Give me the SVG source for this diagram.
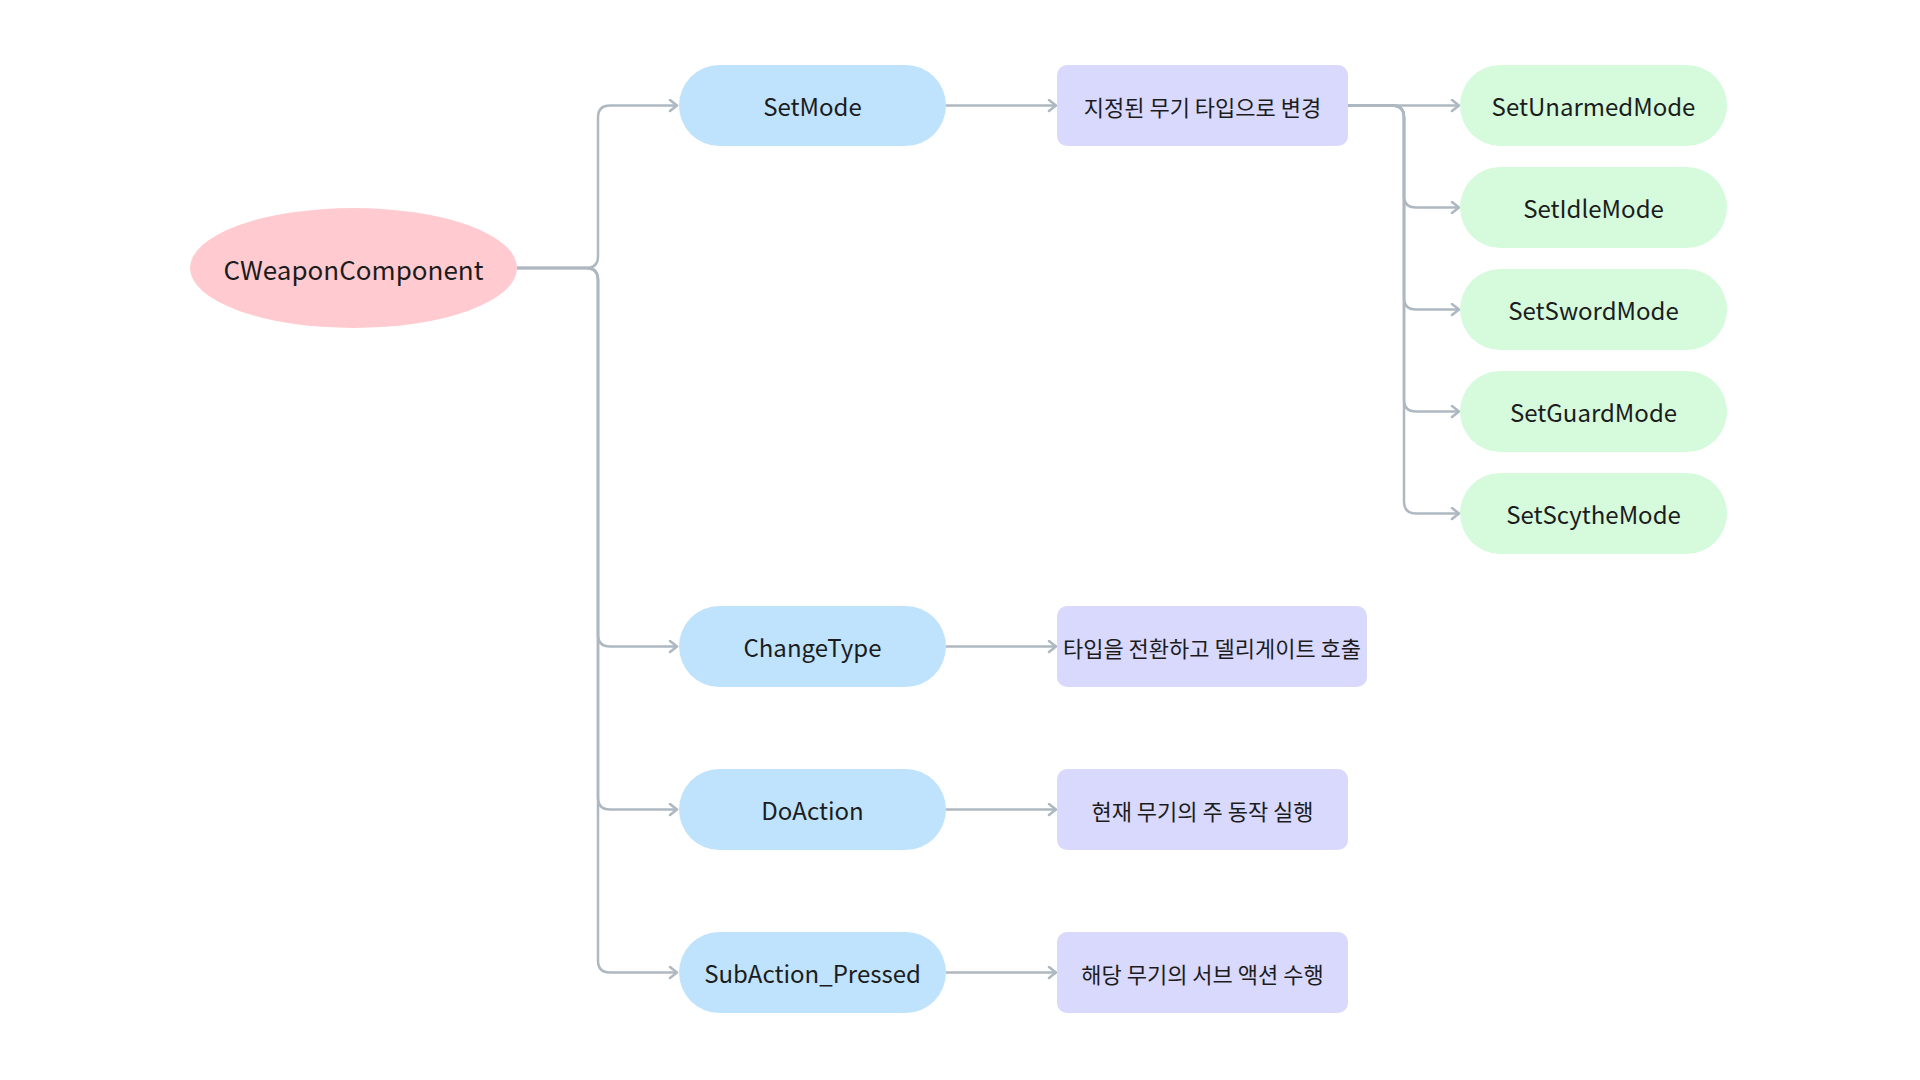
<svg xmlns="http://www.w3.org/2000/svg" width="1920" height="1080" viewBox="0 0 1920 1080">
<style>
text{font-family:"Noto Sans CJK KR","Noto Sans",sans-serif;fill:#1c1c1c;text-anchor:middle;dominant-baseline:central}
.lbl{font-size:24px}
.rootlbl{font-size:26px}
.desc{font-size:22px}
.root{fill:#ffcbd1}
.fn{fill:#bfe3fd}
.dsc{fill:#d8d9fd}
.mode{fill:#d5fadc}
.edge{fill:none;stroke:#aeb8c1;stroke-width:2.5;marker-end:url(#arr)}
</style>
<defs>
<marker id="arr" markerUnits="userSpaceOnUse" markerWidth="12" markerHeight="14" refX="9" refY="7" orient="auto" viewBox="0 0 12 14">
<path d="M2,1.5 L9,7 L2,12.5" fill="none" stroke="#aeb8c1" stroke-width="2.5" stroke-linecap="round" stroke-linejoin="round"/>
</marker>
</defs>
<rect width="1920" height="1080" fill="#ffffff"/>
<g id="connectors">
<path class="edge" d="M517,268 H586 Q598,268 598,256 V117.5 Q598,105.5 610,105.5 H677"/>
<path class="edge" d="M517,268 H586 Q598,268 598,280 V634.5 Q598,646.5 610,646.5 H677"/>
<path class="edge" d="M517,268 H586 Q598,268 598,280 V797.5 Q598,809.5 610,809.5 H677"/>
<path class="edge" d="M517,268 H586 Q598,268 598,280 V960.5 Q598,972.5 610,972.5 H677"/>
<path class="edge" d="M946,105.5 H1056"/>
<path class="edge" d="M946,646.5 H1056"/>
<path class="edge" d="M946,809.5 H1056"/>
<path class="edge" d="M946,972.5 H1056"/>
<path class="edge" d="M1348,105.5 H1459"/>
<path class="edge" d="M1348,105.5 H1392 Q1404,105.5 1404,117.5 V195.5 Q1404,207.5 1416,207.5 H1459"/>
<path class="edge" d="M1348,105.5 H1392 Q1404,105.5 1404,117.5 V297.5 Q1404,309.5 1416,309.5 H1459"/>
<path class="edge" d="M1348,105.5 H1392 Q1404,105.5 1404,117.5 V399.5 Q1404,411.5 1416,411.5 H1459"/>
<path class="edge" d="M1348,105.5 H1392 Q1404,105.5 1404,117.5 V501.5 Q1404,513.5 1416,513.5 H1459"/>
</g>
<g id="n-root"><ellipse class="root" cx="353.5" cy="268" rx="163.5" ry="60"/><text class="rootlbl" x="353.5" y="268">CWeaponComponent</text></g>
<g id="n-setmode"><rect class="fn" x="679" y="65" width="267" height="81" rx="40.5"/><text class="lbl" x="812.5" y="105.5">SetMode</text></g>
<g id="n-changetype"><rect class="fn" x="679" y="606" width="267" height="81" rx="40.5"/><text class="lbl" x="812.5" y="646.5">ChangeType</text></g>
<g id="n-doaction"><rect class="fn" x="679" y="769" width="267" height="81" rx="40.5"/><text class="lbl" x="812.5" y="809.5">DoAction</text></g>
<g id="n-subaction"><rect class="fn" x="679" y="932" width="267" height="81" rx="40.5"/><text class="lbl" x="812.5" y="972.5">SubAction_Pressed</text></g>
<g id="d-setmode"><rect class="dsc" x="1057" y="65" width="291" height="81" rx="10"/><text class="desc" x="1202.5" y="105.5">지정된 무기 타입으로 변경</text></g>
<g id="d-changetype"><rect class="dsc" x="1057" y="606" width="310" height="81" rx="10"/><text class="desc" x="1212" y="646.5">타입을 전환하고 델리게이트 호출</text></g>
<g id="d-doaction"><rect class="dsc" x="1057" y="769" width="291" height="81" rx="10"/><text class="desc" x="1202.5" y="809.5">현재 무기의 주 동작 실행</text></g>
<g id="d-subaction"><rect class="dsc" x="1057" y="932" width="291" height="81" rx="10"/><text class="desc" x="1202.5" y="972.5">해당 무기의 서브 액션 수행</text></g>
<g id="m-unarmed"><rect class="mode" x="1460" y="65" width="267" height="81" rx="40.5"/><text class="lbl" x="1593.5" y="105.5">SetUnarmedMode</text></g>
<g id="m-idle"><rect class="mode" x="1460" y="167" width="267" height="81" rx="40.5"/><text class="lbl" x="1593.5" y="207.5">SetIdleMode</text></g>
<g id="m-sword"><rect class="mode" x="1460" y="269" width="267" height="81" rx="40.5"/><text class="lbl" x="1593.5" y="309.5">SetSwordMode</text></g>
<g id="m-guard"><rect class="mode" x="1460" y="371" width="267" height="81" rx="40.5"/><text class="lbl" x="1593.5" y="411.5">SetGuardMode</text></g>
<g id="m-scythe"><rect class="mode" x="1460" y="473" width="267" height="81" rx="40.5"/><text class="lbl" x="1593.5" y="513.5">SetScytheMode</text></g>
</svg>
